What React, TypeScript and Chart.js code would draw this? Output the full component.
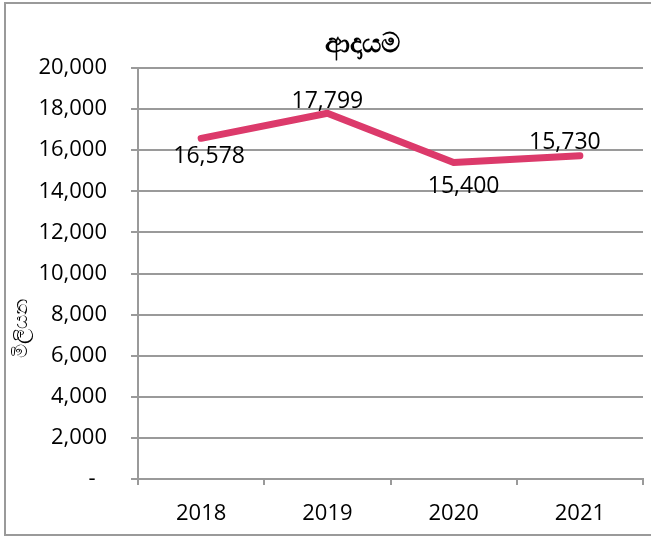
import React, { useEffect, useRef } from "react";
import { Chart, registerables } from "chart.js";

Chart.register(...registerables);

const categories = ["2018", "2019", "2020", "2021"];
const revenue = [16578, 17799, 15400, 15730];
const chartTitle = "ආදායම";
const yAxisTitle = "මිලියන";
const yMin = 0;
const yMax = 20000;
const yStep = 2000;

const FONT = "'Open Sans', 'Noto Sans', sans-serif";

const decorPlugin = {
  id: "decor",
  beforeDraw(chart: any) {
    const ctx = chart.ctx;
    ctx.save();
    ctx.fillStyle = "#ffffff";
    ctx.fillRect(0, 0, chart.width, chart.height);
    ctx.strokeStyle = "#9a9a9a";
    ctx.lineWidth = 2;
    ctx.strokeRect(5, 3, chart.width + 10, 532);
    ctx.restore();
  },
  afterDraw(chart: any) {
    const ctx = chart.ctx;
    ctx.save();
    ctx.fillStyle = "#000000";
    ctx.textAlign = "center";
    ctx.textBaseline = "middle";
    ctx.font = `bold 27px ${FONT}`;
    ctx.fillText(chartTitle, 362, 44);
    ctx.translate(21, 328);
    ctx.rotate(-Math.PI / 2);
    ctx.font = `20px ${FONT}`;
    ctx.fillText(yAxisTitle, 0, 0);
    ctx.restore();

    // data labels
    const meta = chart.getDatasetMeta(0);
    const offsets = [
      [8, 18],
      [0, -12],
      [10, 24],
      [-15, -13],
    ];
    ctx.save();
    ctx.fillStyle = "#000000";
    ctx.font = `23px ${FONT}`;
    ctx.textAlign = "center";
    ctx.textBaseline = "middle";
    meta.data.forEach((pt: any, i: number) => {
      const v = revenue[i];
      ctx.fillText(v.toLocaleString("en-US"), pt.x + offsets[i][0], pt.y + offsets[i][1]);
    });
    ctx.restore();
  },
};

export default function App() {
  const ref = useRef<HTMLCanvasElement | null>(null);
  useEffect(() => {
    if (!ref.current) return;
    const chart = new Chart(ref.current, {
      type: "line",
      data: {
        labels: categories,
        datasets: [
          {
            data: revenue,
            borderColor: "#dc3a6b",
            borderWidth: 7,
            pointRadius: 0,
            borderCapStyle: "round",
            borderJoinStyle: "round",
            tension: 0,
          },
        ],
      },
      plugins: [decorPlugin],
      options: {
        responsive: false,
        animation: false,
        devicePixelRatio: 1,
        layout: { padding: { left: 0, top: 68, right: 8, bottom: 0 } },
        plugins: {
          legend: { display: false },
          title: { display: false },
          tooltip: { enabled: false },
        },
        scales: {
          x: {
            offset: true,
            grid: {
              offset: true,
              drawOnChartArea: false,
              drawTicks: true,
              tickLength: 6,
              color: "#9a9a9a",
              lineWidth: 2,
            },
            border: { color: "#9a9a9a", width: 2 },
            ticks: {
              color: "#000",
              font: { family: FONT, size: 22 },
              padding: 16,
            },
            afterFit(scale: any) {
              scale.height = 59;
            },
          },
          y: {
            min: yMin,
            max: yMax,
            ticks: {
              stepSize: yStep,
              color: "#000",
              font: { family: FONT, size: 22 },
              padding: 24,
              callback: (v: any) => (Number(v) === 0 ? "-  " : Number(v).toLocaleString("en-US")),
            },
            grid: {
              color: "#9a9a9a",
              lineWidth: 2,
              tickLength: 7,
            },
            border: { color: "#9a9a9a", width: 2 },
            afterFit(scale: any) {
              scale.width = 138;
            },
          },
        },
      },
    } as any);
    return () => chart.destroy();
  }, []);
  return (
    <div style={{ position: "absolute", left: 0, top: 0, width: 651, height: 538 }}>
      <canvas ref={ref} width={651} height={538} style={{ width: 651, height: 538, display: "block" }} />
    </div>
  );
}
